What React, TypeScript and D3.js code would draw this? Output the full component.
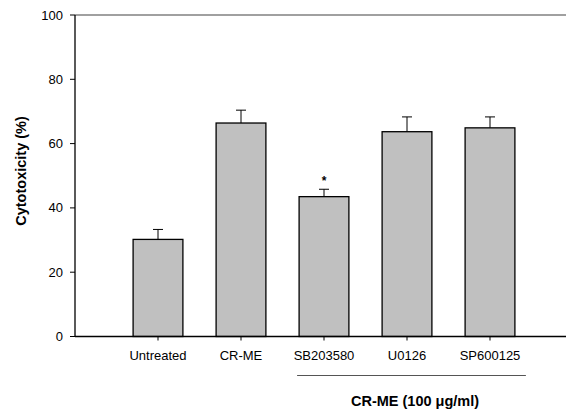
import React from "react";
import * as d3 from "d3";

const categories = ["Untreated", "CR-ME", "SB203580", "U0126", "SP600125"];
const values = [30.2, 66.4, 43.5, 63.7, 64.9];
const errors = [3.1, 4.0, 2.3, 4.6, 3.4];
const significant = [false, false, true, false, false];
const yTicks = [0, 20, 40, 60, 80, 100];
const groupedCategories = ["SB203580", "U0126", "SP600125"];
const groupLabel = "CR-ME (100 \u03bcg/ml)";
const yLabel = "Cytotoxicity (%)";

export default function App() {
  const W = 566, H = 412;
  const left = 75, right = 566, top = 15, bottom = 336.5;
  const y = d3.scaleLinear().domain([0, 100]).range([bottom, top]);
  const x = d3.scaleBand<string>().domain(categories).range([116.5, 531.5]).paddingInner(0.4).paddingOuter(0.2);
  const bw = x.bandwidth();
  const cx = (c: string) => (x(c) as number) + bw / 2;
  const font = "Arial, 'Liberation Sans', sans-serif";
  const g0 = groupedCategories[0], g1 = groupedCategories[groupedCategories.length - 1];
  const gx0 = (x(g0) as number) - 2;
  const gx1 = (x(g1) as number) + bw + 11;

  return (
    <svg width={W} height={H} style={{ position: "absolute", left: 0, top: 0, background: "#fff" }} fontFamily={font}>
      <line x1={left} x2={right} y1={y(100)} y2={y(100)} stroke="#808080" strokeWidth={1.5} />
      {categories.map((c, i) => (
        <g key={c}>
          <line x1={cx(c)} x2={cx(c)} y1={y(values[i])} y2={y(values[i] + errors[i])} stroke="#000" strokeWidth={1} />
          <line x1={cx(c) - 5} x2={cx(c) + 5} y1={y(values[i] + errors[i])} y2={y(values[i] + errors[i])} stroke="#000" strokeWidth={1} />
          <rect x={x(c)} y={y(values[i])} width={bw} height={bottom - y(values[i])} fill="#c0c0c0" stroke="#000" strokeWidth={1.3} />
          {significant[i] && (
            <text x={cx(c)} y={y(values[i] + errors[i]) - 4} textAnchor="middle" fontSize={12} fontWeight="bold">*</text>
          )}
        </g>
      ))}
      <line x1={left} x2={left} y1={y(100)} y2={bottom} stroke="#000" strokeWidth={1.3} />
      {yTicks.map((t) => (
        <g key={t}>
          <line x1={left - 5} x2={left} y1={y(t)} y2={y(t)} stroke="#000" strokeWidth={1} />
          <text x={left - 12} y={y(t)} dy="0.35em" textAnchor="end" fontSize={13} fill="#000">{t}</text>
        </g>
      ))}
      <line x1={left} x2={right} y1={bottom} y2={bottom} stroke="#000" strokeWidth={1.3} />
      {categories.map((c) => (
        <g key={c}>
          <line x1={cx(c)} x2={cx(c)} y1={bottom} y2={bottom + 4} stroke="#000" strokeWidth={1} />
          <text x={cx(c)} y={360} textAnchor="middle" fontSize={13} fill="#000">{c}</text>
        </g>
      ))}
      <line x1={gx0} x2={gx1} y1={375.5} y2={375.5} stroke="#555" strokeWidth={1} />
      <text x={415} y={406} textAnchor="middle" fontSize={14.5} fontWeight="bold">{groupLabel}</text>
      <text transform={`translate(25.5,171) rotate(-90)`} textAnchor="middle" fontSize={14.5} fontWeight="bold">{yLabel}</text>
    </svg>
  );
}
